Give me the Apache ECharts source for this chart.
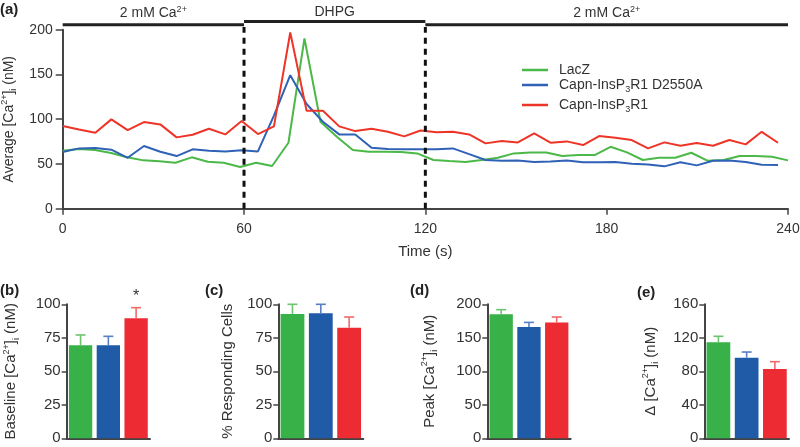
<!DOCTYPE html>
<html><head><meta charset="utf-8">
<script src="https://cdn.jsdelivr.net/npm/echarts@6/dist/echarts.min.js"></script>
<style>html,body{margin:0;padding:0;background:#fff}#c{width:800px;height:447px}</style>
</head><body><div id="c"></div>
<script>
// ---------- data ----------
const seriesNames = ['LacZ', 'Capn-InsP3R1 D2550A', 'Capn-InsP3R1'];
const timeLacZ = [0, 5.3, 10.7, 16.0, 21.3, 26.7, 32.0, 37.3, 42.7, 48.0, 53.3, 58.7, 64.0, 69.3, 74.7, 80.0, 85.3, 90.7, 96.0, 101.3, 106.7, 112.0, 117.3, 122.7, 128.0, 133.3, 138.7, 144.0, 149.3, 154.7, 160.0, 165.3, 170.7, 176.0, 181.3, 186.7, 192.0, 197.3, 202.7, 208.0, 213.3, 218.7, 224.0, 229.3, 234.7, 240.0];
const timeCapn = [0, 5.4, 10.8, 16.1, 21.5, 26.9, 32.3, 37.7, 43.0, 48.4, 53.8, 59.2, 64.6, 69.9, 75.3, 80.7, 86.1, 91.5, 96.8, 102.2, 107.6, 113.0, 118.4, 123.7, 129.1, 134.5, 139.9, 145.3, 150.6, 156.0, 161.4, 166.8, 172.2, 177.5, 182.9, 188.3, 193.7, 199.1, 204.4, 209.8, 215.2, 220.6, 226.0, 231.3, 236.7];
const lacZ = [64.7, 66.6, 65.5, 62.2, 57.4, 54.0, 52.9, 51.4, 57.4, 52.5,
  51.4, 46.5, 51.4, 47.7, 73.7, 190.2, 97.1, 80.4, 65.5, 63.6,
  63.6, 63.3, 61.8, 54.4, 53.2, 52.1, 54.4, 56.9, 61.8, 62.9,
  62.9, 58.8, 59.9, 59.9, 69.2, 62.9, 54.4, 56.9, 56.9, 62.5,
  53.6, 54.4, 58.8, 58.8, 58.0, 54.0];
const capnD2550A = [63.3, 67.4, 67.7, 65.9, 56.9, 70.0, 63.6, 58.8, 66.3, 64.7,
  64.0, 65.2, 64.0, 104, 149.2, 117, 97.1, 83.0, 83.0, 68.1,
  66.6, 66.3, 66.3, 66.3, 67.4, 61, 54.4, 53.6, 53.9, 52.1,
  52.8, 53.9, 51.8, 51.8, 52.1, 50.2, 49.5, 47.3, 51.8, 48.4,
  53.6, 53.9, 52.1, 49.1, 48.8];
const capnInsP3R1 = [92.3, 88.5, 84.8, 99.8, 87.8, 96.8, 94.2, 79.7, 82.6, 89.3,
  83.0, 97.9, 83.4, 91.9, 196.9, 109.4, 109.4, 92.0, 86.7, 89.3,
  86.0, 80.8, 87.3, 85.3, 86.0, 83.0, 73.0, 75.6, 74.1, 84.1,
  73.7, 75.2, 71.1, 81.1, 79.2, 76.7, 67.4, 74.1, 70.3, 73.3,
  70.3, 76.7, 71.9, 85.9, 73.7];
const xTicks = [0, 60, 120, 180, 240];
const conditionSpans = [[0, 60], [60, 120], [120, 240]];
const conditionNames = ['2 mM Ca2+', 'DHPG', '2 mM Ca2+'];

const baseline = [69.4, 69.4, 89.6];
const baselineErr = [7.7, 6.7, 7.9];
const baselineSig = ['', '', '*'];
const responding = [92.8, 93.3, 82.5];
const respondingErr = [7.2, 6.7, 8.0];
const peak = [185, 166, 173];
const peakErr = [7, 7, 8];
const delta = [114.6, 96.3, 82.7];
const deltaErr = [7.2, 6.7, 8.8];

// ---------- styles ----------
const FONT = '"Liberation Sans", Arial, sans-serif';
const TXT = '#333';
const AX = '#444';
const lineColors = ['#4bb848', '#2f62b6', '#ee3427'];
const barColors = ['#38b149', '#1f5ba7', '#ec2b33'];
const errColors = ['#6cc46f', '#5a7fc4', '#f06a6a'];

function rich(fs) {
  return {
    a: {fontSize: fs, lineHeight: fs + 4, color: TXT, fontFamily: FONT},
    sup: {fontSize: 9, lineHeight: 9, verticalAlign: 'top', color: TXT, fontFamily: FONT},
    sub: {fontSize: 9, lineHeight: 9, verticalAlign: 'bottom', color: TXT, fontFamily: FONT}
  };
}
function richify(s) {
  return '{a|' + s.replace('Ca2+', 'Ca}{sup|2+}{a|').replace(']i', ']}{sub|i}{a|').replace('InsP3', 'InsP}{sub|3}{a|') + '}';
}

const chart = echarts.init(document.getElementById('c'));

const grids = [
  {left: 62.7, right: 12, top: 29.7, height: 179},
  {left: 66.7, width: 83.3, top: 304.3, height: 134},
  {left: 278.3, width: 85, top: 304.3, height: 134},
  {left: 487.3, width: 83.3, top: 304.3, height: 134},
  {left: 704.3, width: 84.7, top: 304.3, height: 134}
].map(g => Object.assign({outerBoundsMode: 'none', containLabel: false}, g));

const panels = [
  {name: 'Baseline [Ca2+]i (nM)', vals: baseline, err: baselineErr, sig: baselineSig, max: 100, interval: 25, gap: 46},
  {name: '% Responding Cells', vals: responding, err: respondingErr, sig: null, max: 100, interval: 25, gap: 41},
  {name: 'Peak [Ca2+]i (nM)', vals: peak, err: peakErr, sig: null, max: 200, interval: 50, gap: 48},
  {name: 'Δ [Ca2+]i (nM)', vals: delta, err: deltaErr, sig: null, max: 160, interval: 40, gap: 44}
];

const axisLine = {show: true, lineStyle: {color: AX, width: 2}};

const xAxes = [{
  gridIndex: 0, type: 'value', min: 0, max: 240, interval: 60,
  axisLine: axisLine, splitLine: {show: false},
  axisTick: {show: true, length: 6, lineStyle: {color: AX, width: 1.5}},
  axisLabel: {fontSize: 14, color: TXT, fontFamily: FONT, margin: 13,
    formatter: v => xTicks.indexOf(v) >= 0 ? String(v) : ''},
  name: 'Time (s)', nameLocation: 'middle', nameGap: 36,
  nameTextStyle: {fontSize: 15, color: TXT, fontFamily: FONT}
}];
const yAxes = [{
  gridIndex: 0, type: 'value', min: 0, max: 200, interval: 50,
  axisLine: axisLine, splitLine: {show: false},
  axisTick: {show: true, length: 7, lineStyle: {color: AX, width: 1.5}},
  axisLabel: {fontSize: 14, color: TXT, fontFamily: FONT, margin: 10},
  name: richify('Average [Ca2+]i (nM)'), nameLocation: 'middle', nameRotate: 90, nameGap: 40,
  nameTextStyle: {fontSize: 14, color: TXT, fontFamily: FONT, rich: rich(14)}
}];
panels.forEach((p, k) => {
  xAxes.push({
    gridIndex: k + 1, type: 'category', data: seriesNames,
    axisLine: axisLine, axisTick: {show: false}, axisLabel: {show: false}
  });
  yAxes.push({
    gridIndex: k + 1, type: 'value', min: 0, max: p.max, interval: p.interval,
    axisLine: axisLine, splitLine: {show: false},
    axisTick: {show: true, length: 5, lineStyle: {color: AX, width: 1.5}},
    axisLabel: {fontSize: 15, color: TXT, fontFamily: FONT, margin: 6},
    name: richify(p.name), nameLocation: 'middle', nameRotate: 90, nameGap: p.gap,
    nameTextStyle: {fontSize: 15, color: TXT, fontFamily: FONT, rich: rich(15)}
  });
});

const series = [];
// time courses
[[timeLacZ, lacZ], [timeCapn, capnD2550A], [timeCapn, capnInsP3R1]].forEach((pair, i) => {
  series.push({
    name: seriesNames[i], type: 'line', xAxisIndex: 0, yAxisIndex: 0,
    data: pair[0].map((t, j) => [t, pair[1][j]]),
    symbol: 'none', lineStyle: {width: 2, color: lineColors[i]}, itemStyle: {color: lineColors[i]},
    z: 3
  });
});
// condition bars
conditionSpans.forEach((s, i) => {
  const lvl = conditionNames[i] === 'DHPG' ? 209.2 : 205.4;
  series.push({
    type: 'line', xAxisIndex: 0, yAxisIndex: 0, clip: false, silent: true,
    data: [[s[0], lvl], [s[1], lvl]], symbol: 'none',
    lineStyle: {width: 3, color: '#222'}, z: 4
  });
});
// dashed boundaries
[conditionSpans[0][1], conditionSpans[1][1]].forEach(b => {
  series.push({
    type: 'line', xAxisIndex: 0, yAxisIndex: 0, clip: false, silent: true,
    data: [[b, 0], [b, 203]], symbol: 'none',
    lineStyle: {width: 3, color: '#111', type: [6, 5]}, z: 5
  });
});
// condition labels
series.push({
  type: 'custom', xAxisIndex: 0, yAxisIndex: 0, clip: false, silent: true,
  data: conditionSpans.map((s, i) => [(s[0] + s[1]) / 2, conditionNames[i] === 'DHPG' ? 220 : 218]),
  encode: {x: 0, y: 1},
  renderItem: (params, api) => {
    const pt = api.coord([api.value(0), api.value(1)]);
    return {
      type: 'text',
      style: {text: richify(conditionNames[params.dataIndex]), x: pt[0], y: pt[1],
        align: 'center', verticalAlign: 'middle', rich: rich(14), fontSize: 14, fill: TXT, fontFamily: FONT}
    };
  },
  z: 6
});
// bar panels
panels.forEach((p, k) => {
  series.push({
    type: 'bar', xAxisIndex: k + 1, yAxisIndex: k + 1, barWidth: '84%',
    data: p.vals.map((v, i) => ({value: v, itemStyle: {color: barColors[i]}})),
    silent: true
  });
  series.push({
    type: 'custom', xAxisIndex: k + 1, yAxisIndex: k + 1, silent: true, clip: false,
    data: p.vals.map((v, i) => [i, v, p.err[i]]),
    encode: {x: 0, y: 1},
    renderItem: (params, api) => {
      const i = params.dataIndex;
      const v = api.value(1), e = api.value(2);
      const base = api.coord([i, v]);
      const top = api.coord([i, v + e]);
      const c = errColors[i];
      const children = [
        {type: 'line', shape: {x1: base[0], y1: base[1], x2: top[0], y2: top[1]}, style: {stroke: c, lineWidth: 1.6}},
        {type: 'line', shape: {x1: top[0] - 5, y1: top[1], x2: top[0] + 5, y2: top[1]}, style: {stroke: c, lineWidth: 1.6}}
      ];
      if (p.sig && p.sig[i]) {
        children.push({type: 'text', style: {text: p.sig[i], x: top[0], y: top[1] - 11, align: 'center', verticalAlign: 'middle', fontSize: 16, fill: TXT, fontFamily: FONT}});
      }
      return {type: 'group', children};
    },
    z: 4
  });
});

const legendTops = [58, 73, 93];
const legends = seriesNames.map((n, i) => ({
  data: [n], left: 517, top: legendTops[i], orient: 'vertical',
  icon: 'rect', itemWidth: 26, itemHeight: 2.5,
  formatter: name => richify(name),
  textStyle: {fontSize: 14, color: TXT, fontFamily: FONT, rich: Object.assign(rich(14), {a: {fontSize: 14, lineHeight: 18, color: TXT, fontFamily: FONT}}), padding: [0, 0, 0, 6]},
  selectedMode: false
}));

const titleStyle = {fontSize: 15, fontWeight: 'bold', color: '#222', fontFamily: FONT};
const titles = [
  {text: '(a)', left: 0, top: 2},
  {text: '(b)', left: 0, top: 283},
  {text: '(c)', left: 205, top: 283},
  {text: '(d)', left: 410, top: 283},
  {text: '(e)', left: 637, top: 285}
].map(t => Object.assign({padding: 0, textStyle: titleStyle}, t));

chart.setOption({
  animation: false,
  backgroundColor: '#fff',
  textStyle: {fontFamily: FONT},
  title: titles,
  legend: legends,
  grid: grids,
  xAxis: xAxes,
  yAxis: yAxes,
  series: series
});
</script>
</body></html>
